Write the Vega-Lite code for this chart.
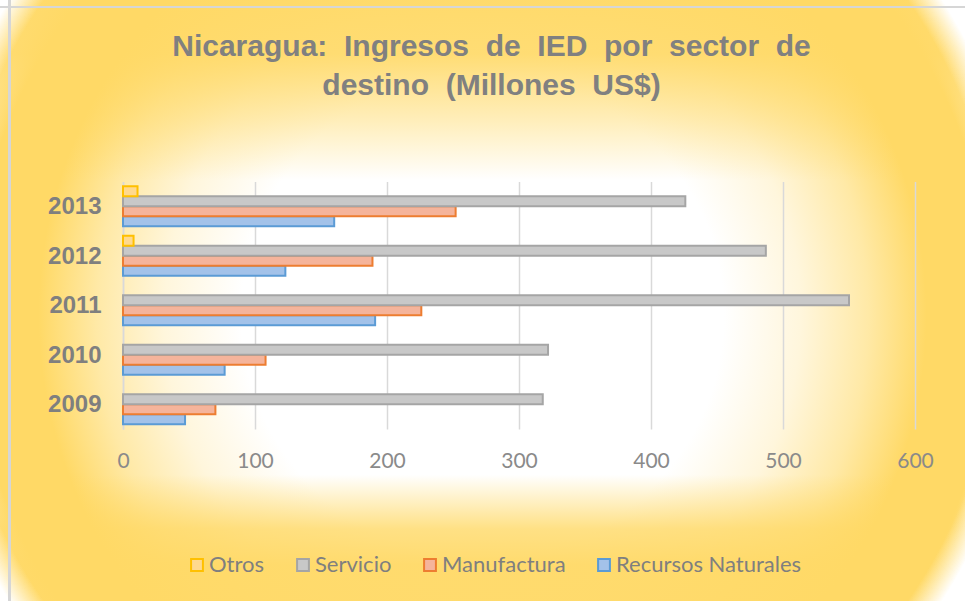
{
  "$schema": "https://vega.github.io/schema/vega-lite/v6.json",
  "width": 965,
  "height": 601,
  "autosize": {"type": "none"},
  "padding": 0,
  "background": "#FFFFFF",
  "view": {
    "stroke": null,
    "fill": {
      "gradient": "radial",
      "x1": 0.5, "y1": 0.515, "r1": 0,
      "x2": 0.5, "y2": 0.515, "r2": 1,
      "stops": [
        {"offset": 0, "color": "#FFFFFF"},
        {"offset": 0.25, "color": "#FFFFFF"},
        {"offset": 0.33, "color": "#FFF6DC"},
        {"offset": 0.40, "color": "#FFE9A6"},
        {"offset": 0.46, "color": "#FFD966"},
        {"offset": 0.53, "color": "#FFD966"},
        {"offset": 0.575, "color": "#FFFFFF"},
        {"offset": 1, "color": "#FFFFFF"}
      ]
    }
  },
  "title": {
    "text": ["Nicaragua:\u00a0 Ingresos\u00a0 de\u00a0 IED\u00a0 por\u00a0 sector\u00a0 de", "destino\u00a0 (Millones\u00a0 US$)"],
    "orient": "top",
    "anchor": "middle",
    "frame": "group",
    "baseline": "top",
    "offset": -101,
    "dx": 9,
    "font": "Liberation Sans",
    "fontSize": 30,
    "fontWeight": "bold",
    "color": "#808080",
    "lineHeight": 39
  },
  "data": {
    "values": [
      {"anio": "2009", "sector": "Recursos Naturales", "valor": 47},
      {"anio": "2009", "sector": "Manufactura", "valor": 70},
      {"anio": "2009", "sector": "Servicio", "valor": 318},
      {"anio": "2010", "sector": "Recursos Naturales", "valor": 77},
      {"anio": "2010", "sector": "Manufactura", "valor": 108},
      {"anio": "2010", "sector": "Servicio", "valor": 322},
      {"anio": "2011", "sector": "Recursos Naturales", "valor": 191},
      {"anio": "2011", "sector": "Manufactura", "valor": 226},
      {"anio": "2011", "sector": "Servicio", "valor": 550},
      {"anio": "2012", "sector": "Recursos Naturales", "valor": 123},
      {"anio": "2012", "sector": "Manufactura", "valor": 189},
      {"anio": "2012", "sector": "Servicio", "valor": 487},
      {"anio": "2012", "sector": "Otros", "valor": 8},
      {"anio": "2013", "sector": "Recursos Naturales", "valor": 160},
      {"anio": "2013", "sector": "Manufactura", "valor": 252},
      {"anio": "2013", "sector": "Servicio", "valor": 426},
      {"anio": "2013", "sector": "Otros", "valor": 11}
    ]
  },
  "layer": [
    {
      "transform": [{"aggregate": [{"op": "count", "as": "n"}]}],
      "mark": {
        "type": "rect",
        "stroke": null,
        "fill": {
          "gradient": "linear",
          "x1": 0, "y1": 0, "x2": 0, "y2": 1,
          "stops": [
            {"offset": 0, "color": "rgba(255,217,102,0.95)"},
            {"offset": 0.09, "color": "rgba(255,217,102,0.9)"},
            {"offset": 0.2, "color": "rgba(255,217,102,0.45)"},
            {"offset": 0.3, "color": "rgba(255,217,102,0)"},
            {"offset": 0.79, "color": "rgba(255,217,102,0)"},
            {"offset": 0.88, "color": "rgba(255,217,102,0.8)"},
            {"offset": 0.94, "color": "rgba(255,217,102,0.95)"},
            {"offset": 1, "color": "rgba(255,217,102,0.95)"}
          ]
        }
      },
      "encoding": {}
    },
    {
      "transform": [{"aggregate": [{"op": "count", "as": "n"}]}],
      "mark": {
        "type": "rect",
        "stroke": null,
        "fill": {
          "gradient": "radial",
          "x1": 0.493, "y1": 0.5, "r1": 0,
          "x2": 0.493, "y2": 0.5, "r2": 1,
          "stops": [
            {"offset": 0, "color": "rgba(255,255,255,0)"},
            {"offset": 0.545, "color": "rgba(255,255,255,0)"},
            {"offset": 0.575, "color": "rgba(255,255,255,1)"},
            {"offset": 1, "color": "rgba(255,255,255,1)"}
          ]
        }
      },
      "encoding": {}
    },
    {
      "transform": [{"aggregate": [{"op": "count", "as": "n"}]}],
      "mark": {
        "type": "rect",
        "stroke": null,
        "fill": {
          "gradient": "linear",
          "x1": 0, "y1": 0, "x2": 1, "y2": 0,
          "stops": [
            {"offset": 0, "color": "rgba(214,214,214,0)"},
            {"offset": 0.0083, "color": "rgba(214,214,214,0)"},
            {"offset": 0.0083, "color": "rgba(214,214,214,1)"},
            {"offset": 0.0109, "color": "rgba(214,214,214,1)"},
            {"offset": 0.0109, "color": "rgba(214,214,214,0)"},
            {"offset": 1, "color": "rgba(214,214,214,0)"}
          ]
        }
      },
      "encoding": {}
    },
    {
      "transform": [{"aggregate": [{"op": "count", "as": "n"}]}],
      "mark": {
        "type": "rect",
        "stroke": null,
        "fill": {
          "gradient": "linear",
          "x1": 0, "y1": 0, "x2": 0, "y2": 1,
          "stops": [
            {"offset": 0, "color": "rgba(214,214,214,0)"},
            {"offset": 0.0100, "color": "rgba(214,214,214,0)"},
            {"offset": 0.0100, "color": "rgba(214,214,214,1)"},
            {"offset": 0.0141, "color": "rgba(214,214,214,1)"},
            {"offset": 0.0141, "color": "rgba(214,214,214,0)"},
            {"offset": 1, "color": "rgba(214,214,214,0)"}
          ]
        }
      },
      "encoding": {}
    },
    {
      "mark": {"type": "bar", "strokeWidth": 2, "fillOpacity": 1},
      "encoding": {
        "x": {
          "field": "valor",
          "type": "quantitative",
          "scale": {"domain": [0, 600], "range": [123, 915], "nice": false, "zero": true},
          "axis": {
            "orient": "top",
            "offset": -429,
            "values": [0, 100, 200, 300, 400, 500, 600],
            "title": null,
            "grid": true,
            "gridColor": "#D9D9D9",
            "gridWidth": 1.5,
            "domain": false,
            "ticks": false,
            "tickSize": 0,
            "labelFlush": false,
            "labelPadding": -32,
            "labelBaseline": "middle",
            "labelFont": "Lato",
            "labelFontSize": 21,
            "labelColor": "#8A8A8A"
          }
        },
        "y": {
          "field": "anio",
          "type": "nominal",
          "scale": {"domain": ["2013", "2012", "2011", "2010", "2009"], "range": [181.5, 429], "paddingInner": 0, "paddingOuter": 0},
          "axis": {
            "orient": "left",
            "offset": -123,
            "title": null,
            "ticks": false,
            "tickSize": 0,
            "domain": true,
            "domainColor": "#D9D9D9",
            "domainWidth": 1.5,
            "grid": false,
            "labelFont": "Liberation Sans",
            "labelFontWeight": "bold",
            "labelFontSize": 24,
            "labelColor": "#7F7F7F",
            "labelPadding": 22,
            "labelOffset": 1
          }
        },
        "yOffset": {
          "field": "sector",
          "type": "nominal",
          "scale": {"domain": ["Otros", "Servicio", "Manufactura", "Recursos Naturales"], "paddingInner": 0, "paddingOuter": 0.475}
        },
        "color": {
          "field": "sector",
          "type": "nominal",
          "scale": {"domain": ["Otros", "Servicio", "Manufactura", "Recursos Naturales"], "range": ["#FFD98E", "#C8C8C8", "#F5B49B", "#A3C2E9"]},
          "legend": {"title": null}
        },
        "stroke": {
          "field": "sector",
          "type": "nominal",
          "scale": {"domain": ["Otros", "Servicio", "Manufactura", "Recursos Naturales"], "range": ["#FFC000", "#A5A5A5", "#ED7D31", "#5B9BD5"]},
          "legend": {"title": null}
        }
      }
    }
  ],
  "config": {
    "font": "Liberation Sans",
    "legend": {
      "orient": "none",
      "legendX": 186,
      "legendY": 554,
      "direction": "horizontal",
      "labelFont": "Lato",
      "labelFontSize": 22,
      "labelColor": "#7F7F7F",
      "labelLimit": 400,
      "symbolType": "square",
      "symbolSize": 140,
      "symbolStrokeWidth": 2,
      "labelOffset": 1,
      "columnPadding": 27,
      "padding": 0
    }
  }
}
